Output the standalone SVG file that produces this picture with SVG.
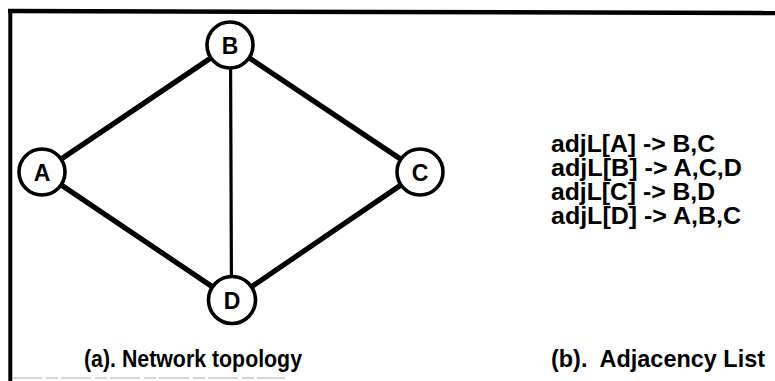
<svg xmlns="http://www.w3.org/2000/svg" width="775" height="381" viewBox="0 0 775 381">
  <style>
    .frame { stroke: #000; fill: none; }
    .edge { stroke: #000; stroke-linecap: round; fill: none; }
    .thick { stroke-width: 5.2; }
    .thin { stroke-width: 3.2; }
    .node circle { fill: #fff; stroke: #000; stroke-width: 3.6; }
    .node text { font-family: "Liberation Sans", Arial, sans-serif; font-weight: bold; font-size: 23px; text-anchor: middle; fill: #000; }
    .list { font-family: "Liberation Sans", Arial, sans-serif; font-weight: bold; font-size: 23px; fill: #000; }
    .caption { font-family: "Liberation Sans", Arial, sans-serif; font-weight: bold; font-size: 24px; fill: #000; }
  </style>

  <rect width="775" height="381" fill="#fff"/>

  <!-- outer frame: top and left sides only -->
  <line class="frame" x1="8" y1="11" x2="775" y2="13" stroke-width="4.5"/>
  <line class="frame" x1="10.3" y1="9" x2="10.3" y2="381" stroke-width="4"/>
  <line x1="12" y1="378" x2="285" y2="378" stroke="#aaa" stroke-width="1" stroke-dasharray="30 4 12 3"/>

  <!-- links between nodes -->
  <g id="connectors">
    <line class="edge thick" x1="42" y1="172" x2="230" y2="45"/>
    <line class="edge thick" x1="230" y1="45" x2="420" y2="172"/>
    <line class="edge thick" x1="42" y1="172" x2="232" y2="300"/>
    <line class="edge thick" x1="232" y1="300" x2="420" y2="172"/>
    <line class="edge thin" x1="230.5" y1="45" x2="231.5" y2="300"/>
  </g>

  <g id="node-A" class="node">
    <circle cx="42" cy="172" r="23"/>
    <text x="42" y="180.5">A</text>
  </g>
  <g id="node-B" class="node">
    <circle cx="230" cy="45" r="23"/>
    <text x="230" y="53.5">B</text>
  </g>
  <g id="node-C" class="node">
    <circle cx="420" cy="172" r="23"/>
    <text x="420" y="180.5">C</text>
  </g>
  <g id="node-D" class="node">
    <circle cx="232" cy="300" r="23.5"/>
    <text x="232" y="308.5">D</text>
  </g>

  <!-- adjacency list -->
  <g id="adjacency-list">
    <text class="list" x="551" y="152" textLength="164" lengthAdjust="spacingAndGlyphs">adjL[A] -&gt; B,C</text>
    <text class="list" x="551" y="176" textLength="191" lengthAdjust="spacingAndGlyphs">adjL[B] -&gt; A,C,D</text>
    <text class="list" x="551" y="200" textLength="164" lengthAdjust="spacingAndGlyphs">adjL[C] -&gt; B,D</text>
    <text class="list" x="551" y="224" textLength="190" lengthAdjust="spacingAndGlyphs">adjL[D] -&gt; A,B,C</text>
  </g>

  <!-- captions -->
  <text class="caption" x="84" y="367" textLength="218" lengthAdjust="spacingAndGlyphs">(a). Network topology</text>
  <text class="caption" x="551" y="367" textLength="214" lengthAdjust="spacingAndGlyphs" xml:space="preserve">(b).  Adjacency List</text>
</svg>
